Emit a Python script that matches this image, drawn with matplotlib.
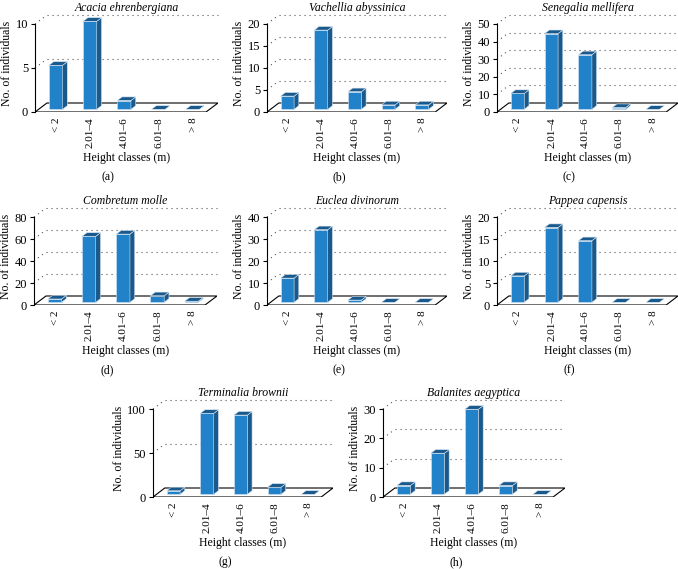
import matplotlib.pyplot as plt
from matplotlib.patches import Polygon

# Data
classes = ['< 2', '2.01–4', '4.01–6', '6.01–8', '> 8']
species = ['Acacia ehrenbergiana', 'Vachellia abyssinica', 'Senegalia mellifera',
           'Combretum molle', 'Euclea divinorum', 'Pappea capensis',
           'Terminalia brownii', 'Balanites aegyptica']
panel_tags = ['(a)', '(b)', '(c)', '(d)', '(e)', '(f)', '(g)', '(h)']
acacia = [5, 10, 1, 0, 0]
vachellia = [3, 18, 4, 1, 1]
senegalia = [9, 43, 31, 1, 0]
combretum = [3, 60, 62, 6, 1]
euclea = [11, 33, 1, 0, 0]
pappea = [6, 17, 14, 0, 0]
terminalia = [4, 92, 90, 8, 0]
balanites = [3, 14, 29, 3, 0]
counts = [acacia, vachellia, senegalia, combretum, euclea, pappea, terminalia, balanites]
y_max = [10, 20, 50, 80, 40, 20, 100, 30]
y_step = [5, 5, 10, 20, 10, 5, 50, 10]

# panel placement in pixels: (y-axis x, zero line y, right end x)
W, H = 678, 569
boxes = [(35, 112, 218), (267, 112, 447), (497, 112, 678),
         (34, 305, 217), (267, 305, 447), (497, 305, 678),
         (153, 497, 333), (383, 497, 565)]

front = '#2181c9'
dark = '#19598c'
serif = 'Liberation Serif'

fig = plt.figure(figsize=(W / 100, H / 100), dpi=100)

for k in range(8):
    x0, y0, x1 = boxes[k]
    ymax = y_max[k]
    dxd = 0.35
    dyd = ymax * 9 / 88
    ax = fig.add_axes([x0 / W, (H - y0) / H, (x1 - x0) / W, 97 / H])
    ax.set_xlim(-0.5, 4.5 + dxd)
    ax.set_ylim(0, ymax + dyd)

    # floor
    ax.add_patch(Polygon([(-0.5, 0), (4.5, 0), (4.5 + dxd, dyd), (-0.5 + dxd, dyd)],
                         closed=True, facecolor='white', edgecolor='black', lw=0.8, zorder=1))

    # dotted gridlines on back and side walls
    v = y_step[k]
    while v <= ymax + 1e-9:
        ax.plot([-0.5 + dxd, 4.5 + dxd], [v + dyd, v + dyd], color='#555555',
                lw=0.8, ls=(0, (1, 3.5)), zorder=0, clip_on=False)
        ax.plot([-0.5, -0.5 + dxd], [v, v + dyd], color='#555555',
                lw=0.8, ls=(0, (1, 3.5)), zorder=0, clip_on=False)
        v += y_step[k]

    # 3D looking bars
    w = 0.4
    fx, fy = 0.3 * dxd, 0.3 * dyd
    bx, by = 0.4 * dxd, 0.4 * dyd
    for i, val in enumerate(counts[k]):
        xl = i - w / 2 + fx
        xr = i + w / 2 + fx
        if val > 0:
            ax.add_patch(Polygon([(xl, fy), (xr, fy), (xr, fy + val), (xl, fy + val)],
                                 closed=True, facecolor=front, edgecolor='#d8e6f2', lw=0.4, zorder=3))
            ax.add_patch(Polygon([(xr, fy), (xr + bx, fy + by), (xr + bx, fy + by + val), (xr, fy + val)],
                                 closed=True, facecolor=dark, edgecolor='#d8e6f2', lw=0.4, zorder=3))
        ax.add_patch(Polygon([(xl, fy + val), (xr, fy + val), (xr + bx, fy + val + by), (xl + bx, fy + val + by)],
                             closed=True, facecolor=dark, edgecolor='#d8e6f2', lw=0.4, zorder=3))

    # axes styling
    for s in ['top', 'right', 'bottom']:
        ax.spines[s].set_visible(False)
    ax.spines['left'].set_bounds(0, ymax)
    ax.spines['left'].set_linewidth(0.8)
    ax.set_yticks(range(0, ymax + 1, y_step[k]))
    ax.tick_params(axis='y', direction='out', length=3, width=0.8, labelsize=9, pad=2)
    ax.set_xticks([i + 0.12 for i in range(5)])
    ax.set_xticklabels(classes, rotation=90, fontsize=8, family=serif)
    ax.tick_params(axis='x', length=0, pad=4)
    for lab in ax.get_yticklabels():
        lab.set_family(serif)
    ax.set_ylabel('No. of individuals', fontsize=8.5, family=serif, labelpad=2)
    ax.set_xlabel('Height classes (m)', fontsize=8.5, family=serif, labelpad=3)
    ax.set_title(species[k], fontsize=8.5, family=serif, style='italic', pad=3)
    ax.text(0.4, -0.67, panel_tags[k], transform=ax.transAxes, ha='center', va='center',
            fontsize=8.5, family=serif)

fig.savefig('out.png', dpi=100)
